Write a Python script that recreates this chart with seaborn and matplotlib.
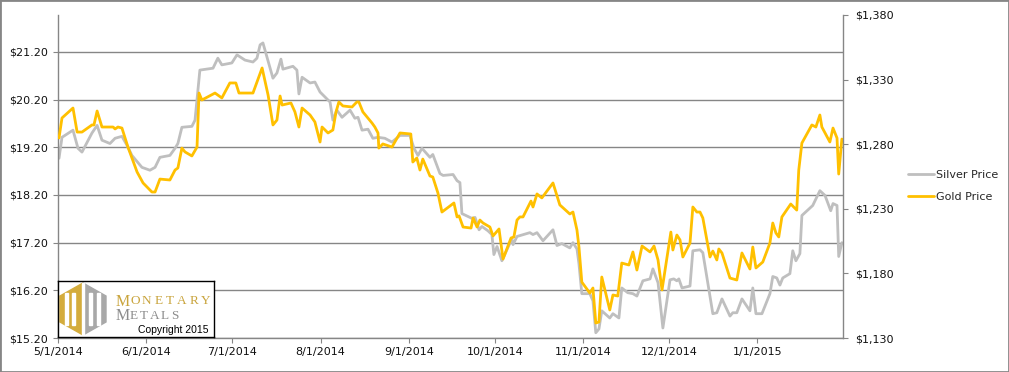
import matplotlib
matplotlib.use("Agg")
import matplotlib.pyplot as plt
import matplotlib.dates as mdates
from matplotlib.patches import Polygon, Rectangle
from matplotlib.ticker import FuncFormatter
import numpy as np
import pandas as pd
import seaborn as sns

# days after 5/1/2014
silver_day = [0.35, 1.4, 5.25, 7.0, 8.4, 11.9, 13.7, 15.4, 18.2, 20.0, 22.4, 24.2, 25.9, 29.4, 32.2,
              34.0, 35.7, 39.2, 41.0, 42.0, 43.4, 46.9, 48.0, 49.7, 54.3, 56.0, 57.4, 60.9, 62.7, 65.5,
              68.3, 69.7, 70.8, 71.8, 75.3, 76.7, 78.1, 78.8, 82.3, 83.7, 84.4, 85.5, 88.3, 90.0, 91.8,
              95.3, 96.3, 97.7, 99.5, 102.3, 104.0, 105.1, 106.5, 108.6, 110.3, 112.1, 114.5, 117.0, 119.8,
              123.3, 124.7, 126.1, 127.5, 130.3, 131.3, 133.8, 134.9, 138.4, 139.8, 140.8, 141.5, 145.0,
              146.1, 147.5, 148.5, 150.6, 152.0, 152.7, 153.8, 155.5, 159.0, 159.4, 160.8, 165.3, 166.4,
              167.8, 169.9, 173.4, 174.8, 176.5, 179.3, 180.4, 181.8, 182.5, 183.5, 186.3, 187.4, 188.4,
              189.5, 190.5, 193.3, 194.4, 196.5, 197.5, 199.6, 201.4, 202.8, 204.9, 207.4, 208.4, 210.2,
              211.9, 214.4, 215.7, 216.8, 217.5, 218.6, 221.4, 222.4, 224.9, 225.9, 229.4, 230.8, 232.6,
              235.4, 236.4, 237.8, 239.6, 242.4, 243.4, 244.5, 246.6, 249.4, 250.4, 251.8, 252.9, 253.9,
              256.4, 257.4, 258.5, 259.9, 260.6, 264.4, 266.9, 268.7, 270.7, 271.5, 272.9, 273.5, 274.6]
silver_price = [18.97, 19.41, 19.56, 19.18, 19.10, 19.50, 19.66, 19.35, 19.28, 19.39, 19.43, 19.24, 19.03,
                18.78, 18.72, 18.78, 18.99, 19.03, 19.18, 19.28, 19.62, 19.64, 19.77, 20.82, 20.86, 21.07,
                20.93, 20.97, 21.14, 21.03, 20.99, 21.07, 21.35, 21.39, 20.65, 20.76, 21.05, 20.84, 20.90,
                20.82, 20.32, 20.67, 20.55, 20.57, 20.36, 20.15, 19.77, 19.98, 19.83, 19.98, 19.81, 19.83,
                19.56, 19.58, 19.39, 19.41, 19.39, 19.31, 19.45, 19.45, 19.18, 19.03, 19.18, 18.99, 19.05,
                18.65, 18.61, 18.63, 18.50, 18.46, 17.81, 17.71, 17.73, 17.47, 17.54, 17.45, 17.37, 16.95,
                17.12, 16.82, 17.28, 17.16, 17.33, 17.41, 17.37, 17.41, 17.24, 17.47, 17.14, 17.18, 17.09,
                17.20, 17.07, 16.76, 16.13, 16.13, 15.98, 15.31, 15.39, 15.77, 15.62, 15.71, 15.62, 16.25,
                16.15, 16.13, 16.08, 16.40, 16.44, 16.65, 16.36, 15.41, 16.42, 16.44, 16.40, 16.44, 16.25,
                16.29, 17.03, 17.05, 16.99, 15.71, 15.73, 16.02, 15.66, 15.73, 15.73, 16.02, 15.77, 16.25,
                15.71, 15.71, 16.13, 16.49, 16.46, 16.31, 16.46, 16.55, 17.03, 16.82, 16.97, 17.77, 17.98,
                18.29, 18.19, 17.87, 18.02, 17.98, 16.91, 17.20]

gold_day = [0.35, 1.4, 5.25, 6.7, 8.4, 11.9, 12.6, 13.7, 15.4, 19.3, 20.0, 21.0, 22.4, 24.5, 27.7, 29.8,
            32.9, 34.0, 35.7, 39.2, 41.0, 42.0, 43.4, 44.5, 46.9, 48.7, 49.4, 50.4, 55.0, 57.4, 60.2, 62.3,
            63.4, 68.3, 71.5, 73.6, 75.3, 76.7, 77.8, 78.5, 81.6, 83.0, 84.4, 85.5, 88.3, 90.0, 91.8, 92.5,
            94.6, 96.3, 97.4, 98.4, 99.8, 103.0, 104.7, 105.4, 106.8, 110.0, 111.0, 112.1, 112.4, 113.8,
            117.0, 119.8, 123.6, 124.3, 125.7, 126.8, 127.8, 130.3, 131.3, 133.1, 134.5, 138.7, 139.8, 140.5,
            141.9, 144.7, 145.4, 146.8, 147.8, 148.9, 151.3, 152.4, 154.5, 155.9, 158.7, 159.7, 160.8, 161.8,
            162.9, 165.7, 166.4, 167.8, 169.5, 173.4, 175.8, 179.3, 180.4, 181.8, 182.5, 183.5, 186.3, 187.4,
            188.4, 189.5, 190.5, 193.3, 194.4, 196.1, 197.5, 200.0, 201.4, 202.8, 204.6, 207.4, 208.8, 210.2,
            211.6, 214.7, 215.4, 216.8, 217.9, 218.9, 221.4, 222.4, 223.8, 224.9, 225.9, 228.4, 229.4, 230.8,
            231.5, 232.6, 235.4, 237.8, 239.6, 242.4, 243.4, 244.5, 246.9, 249.4, 250.4, 251.5, 252.5, 253.6,
            256.7, 258.8, 259.5, 260.6, 264.1, 265.5, 266.9, 267.6, 270.4, 271.5, 272.9, 273.5, 274.6]
gold_price = [1284.8, 1300.3, 1308.0, 1289.4, 1289.4, 1294.9, 1294.9, 1305.7, 1293.3, 1293.3, 1291.8,
              1293.3, 1292.5, 1277.8, 1258.5, 1250.0, 1243.0, 1243.0, 1253.0, 1252.3, 1260.0, 1261.6,
              1277.0, 1274.0, 1270.9, 1277.8, 1319.6, 1314.2, 1319.6, 1315.8, 1327.4, 1327.4, 1319.6,
              1319.6, 1339.0, 1318.0, 1294.9, 1298.7, 1317.3, 1310.3, 1311.9, 1305.0, 1293.3, 1308.0,
              1302.6, 1297.2, 1281.7, 1293.3, 1288.7, 1291.0, 1305.0, 1312.7, 1309.6, 1308.8, 1312.7,
              1312.7, 1305.0, 1296.4, 1293.3, 1288.7, 1277.0, 1280.2, 1277.8, 1288.7, 1287.9, 1266.2,
              1269.3, 1260.0, 1268.5, 1255.4, 1254.6, 1242.2, 1227.5, 1234.5, 1223.7, 1224.5, 1215.9,
              1215.1, 1222.9, 1215.9, 1221.3, 1219.0, 1215.9, 1209.0, 1214.4, 1191.1, 1207.4, 1208.2,
              1221.3, 1223.7, 1223.7, 1236.0, 1231.4, 1241.5, 1238.4, 1250.0, 1233.0, 1226.0, 1227.5,
              1213.6, 1200.4, 1173.3, 1164.8, 1168.7, 1141.6, 1142.4, 1177.2, 1151.7, 1163.3, 1162.5,
              1188.0, 1186.5, 1196.6, 1182.6, 1201.2, 1196.6, 1201.2, 1190.4, 1167.2, 1212.0, 1198.1,
              1209.7, 1205.9, 1192.7, 1203.5, 1231.4, 1227.5, 1227.5, 1222.9, 1192.7, 1197.3, 1190.4,
              1198.9, 1195.8, 1176.4, 1174.9, 1195.8, 1183.4, 1200.4, 1184.2, 1188.8, 1203.5, 1219.0,
              1211.3, 1208.2, 1223.7, 1233.7, 1229.0, 1260.0, 1280.9, 1294.9, 1293.3, 1302.6, 1293.3,
              1281.7, 1292.5, 1284.8, 1256.9, 1284.0]

series_labels = ["Silver Price", "Gold Price"]
start = pd.Timestamp("2014-05-01")
end = pd.Timestamp("2015-01-31")

silver = pd.DataFrame({"date": start + pd.to_timedelta(silver_day, unit="D"), "price": silver_price})
gold = pd.DataFrame({"date": start + pd.to_timedelta(gold_day, unit="D"), "price": gold_price})

sns.set_style("white")
plt.rcParams["font.family"] = ["DejaVu Sans"]

grid_c = "#868686"
fig = plt.figure(figsize=(10.09, 3.72), dpi=100)
ax = fig.add_axes([58 / 1009, 34 / 372, 785 / 1009, 323 / 372])
ax2 = ax.twinx()

sns.lineplot(data=silver, x="date", y="price", ax=ax, color="#BFBFBF", linewidth=2.0, label=series_labels[0], legend=False)
sns.lineplot(data=gold, x="date", y="price", ax=ax2, color="#FFC000", linewidth=2.0, label=series_labels[1], legend=False)

ax.set_xlim(start, end)
ax.set_ylim(15.2, 21.976)
ax.set_yticks(np.arange(15.2, 21.3, 1.0))
ax.yaxis.set_major_formatter(FuncFormatter(lambda v, p: f"${v:.2f}"))
ax2.set_ylim(1130, 1380)
ax2.set_yticks(np.arange(1130, 1381, 50))
ax2.yaxis.set_major_formatter(FuncFormatter(lambda v, p: f"${v:,.0f}"))

ax.xaxis.set_major_locator(mdates.MonthLocator())
ax.xaxis.set_major_formatter(FuncFormatter(lambda v, p: (lambda d: f"{d.month}/{d.day}/{d.year}")(mdates.num2date(v))))

for a in (ax, ax2):
    a.set_xlabel("")
    a.set_ylabel("")
    for s in a.spines.values():
        s.set_color(grid_c)
        s.set_linewidth(1)
    a.spines["top"].set_visible(False)
ax.spines["right"].set_visible(False)
ax2.spines["left"].set_visible(False)
ax2.spines["bottom"].set_visible(False)

ax.grid(axis="y", color=grid_c, linewidth=1)
ax.grid(axis="x", visible=False)
ax2.grid(False)
ax.tick_params(axis="y", left=True, length=3.5, color=grid_c, pad=4, labelsize=8, labelcolor="#111111")
ax.tick_params(axis="x", bottom=True, length=3.5, color=grid_c, pad=3, labelsize=8, labelcolor="#111111")
ax2.tick_params(axis="y", right=True, length=3.5, color=grid_c, pad=5, labelsize=8, labelcolor="#111111")

h1, l1 = ax.get_legend_handles_labels()
h2, l2 = ax2.get_legend_handles_labels()
fig.legend(h1 + h2, l1 + l2, loc="center left", bbox_to_anchor=(898 / 1009, 0.5), frameon=False,
           fontsize=8, handlelength=2.3, handletextpad=0.2, labelspacing=1.1)

# outer chart border
fig.add_artist(Rectangle((0, 0), 1, 1, transform=fig.transFigure, fill=False, edgecolor=grid_c, linewidth=2))

# logo box
logo = fig.add_axes([58 / 1009, 35 / 372, 156 / 1009, 56 / 372])
logo.set_xlim(0, 156)
logo.set_ylim(0, 56)
logo.set_xticks([])
logo.set_yticks([])
logo.set_facecolor("white")
for s in logo.spines.values():
    s.set_color("black")
    s.set_linewidth(1)
gold_c, gray_c = "#D4AC3C", "#A8A8A8"
logo.add_patch(Polygon([(25, 54), (2, 41), (2, 15), (25, 2)], closed=True, color=gold_c))
logo.add_patch(Polygon([(25, 54), (48, 41), (48, 15), (25, 2)], closed=True, color=gray_c))
for x0 in (7, 14, 31, 39):
    logo.add_patch(Rectangle((x0, 12), 2.5, 32, color="white"))
logo.add_patch(Rectangle((24.3, 2), 1.4, 52, color="white"))
for i, ch in enumerate("MONETARY"):
    logo.text(65 + i * 11.8, 35.5, ch, ha="center", va="center", color="#C9A43C",
              fontsize=11.5 if i == 0 else 9.5, family="Liberation Serif")
for i, ch in enumerate("METALS"):
    logo.text(65 + i * 10.4, 21, ch, ha="center", va="center", color="#8C8C8C",
              fontsize=11.5 if i == 0 else 9.5, family="Liberation Serif")
logo.text(150, 7, "Copyright 2015", ha="right", va="center", color="black", fontsize=7.5, family="Liberation Sans")

fig.savefig("out.png", dpi=100)
